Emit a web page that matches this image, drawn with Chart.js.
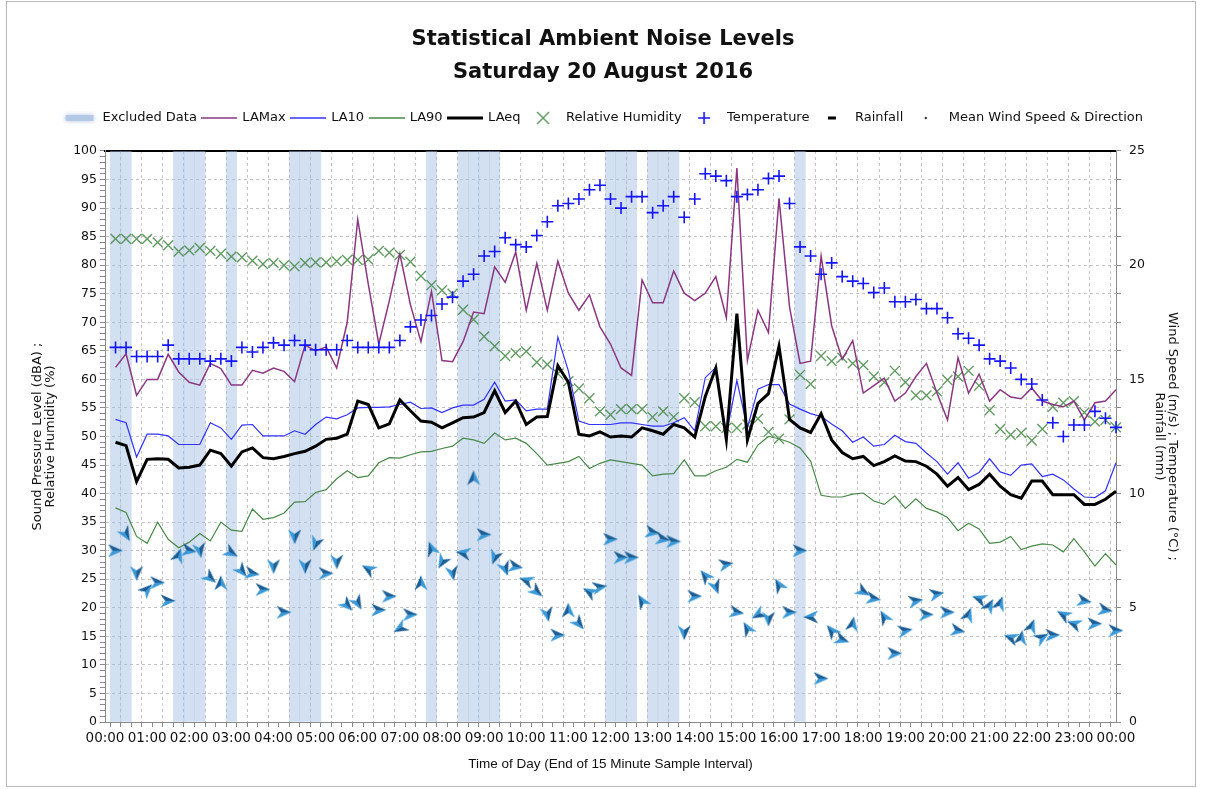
<!DOCTYPE html>
<html>
<head>
<meta charset="utf-8">
<title>Statistical Ambient Noise Levels</title>
<script src="https://cdn.jsdelivr.net/npm/chart.js@4.4.1/dist/chart.umd.min.js"></script>
<style>
  html, body { margin: 0; padding: 0; background: #fff; }
  #wrap { position: relative; width: 1206px; height: 789px; }
  #wrap canvas { position: absolute; left: 0; top: 0; }
  #frame { position: absolute; left: 6px; top: 1px; width: 1190px; height: 786px; border: 1px solid #b8b8b8; box-sizing: border-box; pointer-events: none; }
</style>
</head>
<body>
<div id="wrap">
  <canvas id="chart" width="1206" height="789"></canvas>
  <div id="frame"></div>
</div>
<script>
// 15 minute samples, labelled by end of interval; index 0 is 00:00 (no sample)
const timeLabels = [];
for (let i = 0; i <= 96; i++) {
    const m = (i * 15) % 1440;
    timeLabels.push(String(Math.floor(m / 60)).padStart(2, '0') + ':' + String(m % 60).padStart(2, '0'));
}

// dBA, one row = two hours
const laMax = [null,
    62.1, 64.5, 57.2, 60, 60, 64.4, 61.3, 59.5,
    59, 62.8, 61.9, 59, 59, 61.6, 61.1, 62,
    61.4, 59.6, 66, 65, 65.7, 62, 70, 88,
    76.7, 66.2, 73.8, 82, 73.1, 66.6, 75.4, 63.3,
    63.1, 66.6, 71.8, 71.5, 79.7, 77, 82.3, 72.1,
    80.3, 72.1, 80.7, 75.1, 72.1, 74.8, 69.2, 66.2,
    62, 60.7, 77.4, 73.4, 73.4, 79, 75.1, 73.8,
    75.1, 78, 70.8, 97, 63.3, 72.1, 68.2, 91.7,
    72.7, 62.8, 63.2, 81.6, 69.4, 63.5, 66.8, 57.6,
    58.9, 60.2, 56.2, 57.6, 60.5, 62.8, 57.6, 52.9,
    63.8, 57.6, 60.9, 56.2, 58.2, 56.9, 56.6, 58.5,
    56.2, 55.6, 55.2, 56.2, 52.9, 55.9, 56.2, 58.2];

const la10 = [null,
    53, 52.4, 46.4, 50.4, 50.4, 50.1, 48.6, 48.6,
    48.6, 52.4, 51.5, 49.5, 52, 52.1, 50.1, 50.1,
    50.1, 51, 50.4, 52.1, 53.4, 53.1, 53.8, 55,
    55.1, 55.1, 55.2, 55.6, 56, 54.9, 55, 54.2,
    55, 55.5, 55.5, 56.5, 59.5, 56.2, 56.4, 54.5,
    54.8, 54.8, 67.4, 61.5, 52.7, 52.1, 52.1, 52.1,
    52.4, 52.4, 52.1, 51.8, 51.8, 52.4, 53.3, 51,
    60.3, 62.1, 50.4, 59.8, 51.5, 58.3, 59.1, 59.1,
    55.7, 54.8, 54, 53.5, 52.2, 51, 49, 49.9,
    48.3, 48.6, 50.2, 49.1, 48.8, 47.1, 45.6, 43.4,
    45.4, 42.7, 43.7, 46.1, 43.8, 43.2, 45, 45.2,
    43, 43.4, 42.4, 40.8, 39.4, 39.3, 40.5, 45.4];

const la90 = [null,
    37.5, 36.7, 32.5, 31.3, 35, 32, 30.5, 31.5,
    33, 31.7, 35, 33.6, 33.4, 37.3, 35.5, 35.8,
    36.6, 38.5, 38.6, 40.2, 40.7, 42.6, 44, 42.8,
    43.1, 45.4, 46.3, 46.2, 46.8, 47.3, 47.4, 47.9,
    48.3, 49.7, 49.4, 48.8, 50.6, 49.4, 49.7, 48.8,
    47, 45, 45.3, 45.6, 46.5, 44.4, 45.3, 45.9,
    45.6, 45.3, 45, 43.1, 43.4, 43.5, 45.9, 43.1,
    43.1, 44, 44.6, 46, 45.5, 48.5, 50, 49.6,
    49, 48, 45.7, 39.7, 39.4, 39.4, 39.9, 40.1,
    38.7, 38.1, 39.6, 37.4, 39.1, 37.4, 36.8, 35.8,
    33.5, 34.8, 33.8, 31.3, 31.5, 32.5, 30.2, 30.8,
    31.2, 31, 29.8, 32.1, 29.8, 27.3, 29.5, 27.5];

const laeq = [null,
    49, 48.4, 42.1, 46, 46.1, 46, 44.5, 44.6,
    45, 47.6, 47, 44.8, 47.3, 48, 46.3, 46.1,
    46.5, 47, 47.4, 48.3, 49.5, 49.7, 50.4, 56.2,
    55.6, 51.5, 52.2, 56.4, 54.5, 52.7, 52.5, 51.5,
    52.4, 53.3, 53.4, 54.2, 58, 54.2, 56.2, 52.1,
    53.4, 53.5, 62.4, 59.5, 50.4, 50.1, 50.8, 49.9,
    50.1, 49.9, 51.5, 51, 50.4, 52.1, 51.5, 49.9,
    57, 62, 49.5, 71.5, 49.4, 55.8, 57.5, 65.8,
    53, 51.5, 50.7, 54, 49.4, 47.2, 46.1, 46.5,
    44.9, 45.6, 46.6, 45.7, 45.6, 44.8, 43.4, 41.3,
    42.8, 40.7, 41.6, 43.4, 41.3, 39.8, 39.2, 42.2,
    42.2, 39.8, 39.8, 39.8, 38.1, 38.1, 39, 40.4];

// %
const humidity = [null,
    84.6, 84.6, 84.6, 84.6, 84, 83.5, 82.4, 82.6,
    83, 82.5, 82, 81.5, 81.4, 80.8, 80.2, 80.4,
    80, 79.8, 80.4, 80.5, 80.5, 80.7, 80.9, 80.9,
    81, 82.5, 82.2, 81.8, 80.6, 78.1, 76.5, 75.6,
    75, 72.2, 70.5, 67.5, 65.8, 64.1, 64.6, 64.9,
    63, 62.6, 61, 59.7, 58.4, 56.7, 54.4, 53.8,
    54.8, 54.8, 54.8, 53.4, 54.4, 53.4, 56.7, 56,
    51.8, 51.8, 51.5, 51.5, 52.1, 53.1, 50.8, 49.6,
    53, 60.8, 59.2, 64.1, 63.2, 63.8, 62.8, 62.5,
    60.5, 59.5, 61.5, 59.5, 57.2, 57.2, 57.9, 59.9,
    60.5, 61.5, 58.9, 54.6, 51.3, 50.3, 50.6, 49.3,
    51.3, 55.2, 55.9, 56.2, 54.2, 52.6, 52.9, 51.6];

// degrees C
const temperature = [null,
    16.4, 16.4, 16.0, 16.0, 16.0, 16.5, 15.9, 15.9,
    15.9, 15.8, 15.9, 15.8, 16.4, 16.2, 16.4, 16.6,
    16.5, 16.7, 16.5, 16.3, 16.3, 16.3, 16.7, 16.4,
    16.4, 16.4, 16.4, 16.7, 17.3, 17.6, 17.8, 18.3,
    18.6, 19.3, 19.6, 20.4, 20.6, 21.2, 20.9, 20.8,
    21.3, 21.9, 22.6, 22.7, 22.9, 23.3, 23.5, 22.9,
    22.5, 23.0, 23.0, 22.3, 22.6, 23.0, 22.1, 22.9,
    24.0, 23.9, 23.7, 23.0, 23.1, 23.3, 23.8, 23.9,
    22.7, 20.8, 20.4, 19.6, 20.1, 19.5, 19.3, 19.2,
    18.8, 19.0, 18.4, 18.4, 18.5, 18.1, 18.1, 17.7,
    17.0, 16.8, 16.5, 15.9, 15.8, 15.5, 15.0, 14.8,
    14.1, 13.1, 12.5, 13.0, 13.0, 13.6, 13.3, 12.9];

// m/s
const windSpeed = [null,
    7.5, 8.2, 6.5, 5.8, 6.1, 5.3, 7.3, 7.5,
    7.5, 6.3, 6.1, 7.4, 6.6, 6.5, 5.8, 6.8,
    4.8, 8.1, 6.8, 7.8, 6.5, 7.0, 5.1, 5.2,
    6.7, 4.9, 5.5, 4.1, 4.7, 6.1, 7.6, 7.0,
    6.5, 7.4, 10.7, 8.2, 7.2, 6.7, 6.8, 6.2,
    5.7, 4.7, 3.8, 4.9, 4.3, 5.7, 5.9, 8.0,
    7.2, 7.2, 5.3, 8.3, 8.0, 7.9, 3.9, 5.5,
    6.4, 5.9, 6.9, 4.8, 4.1, 4.7, 4.5, 6.0,
    4.8, 7.5, 4.6, 1.9, 4.0, 3.6, 4.3, 5.7,
    5.4, 4.6, 3.0, 4.0, 5.3, 4.7, 5.6, 4.8,
    4.0, 4.7, 5.4, 5.1, 5.2, 3.7, 3.7, 4.2,
    3.7, 3.8, 4.7, 4.3, 5.3, 4.3, 4.9, 4.0];

// direction the arrow points, degrees clockwise from up
const windDir = [0,
    90, 150, 180, 45, 90, 90, 20, 100,
    170, 130, 0, 120, 140, 100, 90, 180,
    90, 180, 180, 200, 90, 180, 135, 150,
    300, 90, 90, 240, 90, 0, 340, 210,
    170, 280, 0, 90, 200, 160, 100, 290,
    130, 170, 90, 0, 140, 300, 80, 90,
    90, 90, 330, 100, 100, 90, 180, 90,
    320, 160, 80, 100, 330, 240, 180, 330,
    90, 90, 270, 90, 320, 110, 10, 120,
    100, 330, 90, 80, 80, 90, 80, 90,
    100, 20, 290, 30, 20, 290, 10, 20,
    60, 90, 300, 290, 100, 90, 100, 90];

// mm - none recorded
const rainfall = [];

// sample indices flagged as excluded
const excludedSamples = [1, 2, 7, 8, 9, 12, 18, 19, 20, 31, 34, 35, 36, 37, 48, 49, 50, 52, 53, 54, 66];

const COLORS = {
    excluded: 'rgba(160, 190, 226, 0.48)',
    laMax: '#8a3780',
    la10: '#3232ff',
    la90: '#4a874a',
    laeq: '#000000',
    humidity: 'rgba(72, 136, 72, 0.85)',
    temperature: '#1414ff',
    grid: '#c4c4c4',
    axis: '#8a8a8a'
};

const swatch = (w, h, draw) => {
    const c = document.createElement('canvas');
    c.width = w;
    c.height = h;
    draw(c.getContext('2d'), w, h);
    return c;
};

const arrowImg = swatch(16, 16, g => {
    g.beginPath();
    g.moveTo(8, 0.5); g.lineTo(8, 11); g.lineTo(1.5, 15.5); g.closePath();
    g.fillStyle = '#1c5e94';
    g.fill();
    g.beginPath();
    g.moveTo(8, 0.5); g.lineTo(14.5, 15.5); g.lineTo(8, 11); g.closePath();
    g.fillStyle = '#3a98d6';
    g.fill();
});

const lineSwatch = (color, width) => swatch(36, 6, (g, w, h) => {
    g.strokeStyle = color;
    g.lineWidth = width;
    g.beginPath();
    g.moveTo(0, h / 2);
    g.lineTo(w, h / 2);
    g.stroke();
});

const legendItems = [
    { text: 'Excluded Data', pointStyle: swatch(36, 14, g => {
        g.shadowColor = 'rgba(150, 180, 215, 0.9)';
        g.shadowBlur = 4;
        g.fillStyle = 'rgba(178, 200, 228, 0.9)';
        g.fillRect(4, 4, 28, 6);
    }) },
    { text: 'LAMax', pointStyle: lineSwatch(COLORS.laMax, 1.5) },
    { text: 'LA10', pointStyle: lineSwatch(COLORS.la10, 1.5) },
    { text: 'LA90', pointStyle: lineSwatch(COLORS.la90, 1.5) },
    { text: 'LAeq', pointStyle: lineSwatch(COLORS.laeq, 3) },
    { text: 'Relative Humidity', pointStyle: swatch(36, 16, g => {
        g.strokeStyle = COLORS.humidity;
        g.lineWidth = 1.5;
        g.beginPath();
        g.moveTo(12, 2); g.lineTo(24, 14);
        g.moveTo(24, 2); g.lineTo(12, 14);
        g.stroke();
    }) },
    { text: 'Temperature', pointStyle: swatch(36, 16, g => {
        g.strokeStyle = COLORS.temperature;
        g.lineWidth = 1.6;
        g.beginPath();
        g.moveTo(12, 8); g.lineTo(24, 8);
        g.moveTo(18, 2); g.lineTo(18, 14);
        g.stroke();
    }) },
    { text: 'Rainfall', pointStyle: swatch(36, 6, g => {
        g.fillStyle = '#000';
        g.fillRect(14, 1.5, 8, 3);
    }) },
    { text: 'Mean Wind Speed & Direction', pointStyle: swatch(36, 6, g => {
        g.fillStyle = '#333';
        g.beginPath();
        g.arc(18, 3, 1.2, 0, Math.PI * 2);
        g.fill();
    }) }
].map((item, i) => Object.assign(item, {
    fillStyle: 'transparent', strokeStyle: 'transparent', lineWidth: 0,
    hidden: false, fontColor: '#111', datasetIndex: i
}));

const excludedData = timeLabels.map((t, i) => excludedSamples.includes(i) ? 100 : null);

const lineDataset = (label, data, color, width, order) => ({
    type: 'line',
    label: label,
    data: data,
    xAxisID: 'x',
    yAxisID: 'y',
    borderColor: color,
    borderWidth: width,
    pointRadius: 0,
    tension: 0,
    order: order
});

Chart.defaults.font.family = "'DejaVu Sans', sans-serif";

new Chart(document.getElementById('chart'), {
    type: 'bar',
    data: {
        labels: timeLabels,
        datasets: [
            {
                type: 'bar',
                label: 'Excluded Data',
                data: excludedData,
                xAxisID: 'x',
                yAxisID: 'y',
                backgroundColor: COLORS.excluded,
                borderWidth: 0,
                barPercentage: 1,
                categoryPercentage: 1,
                grouped: false,
                order: 10
            },
            lineDataset('LAMax', laMax, COLORS.laMax, 1.5, 5),
            lineDataset('LA10', la10, COLORS.la10, 1.2, 4),
            lineDataset('LA90', la90, COLORS.la90, 1.2, 6),
            lineDataset('LAeq', laeq, COLORS.laeq, 3, 3),
            {
                type: 'line',
                label: 'Relative Humidity',
                data: humidity,
                xAxisID: 'x',
                yAxisID: 'y',
                showLine: false,
                pointStyle: 'crossRot',
                pointRadius: 7,
                pointBorderColor: COLORS.humidity,
                pointBorderWidth: 1.4,
                order: 7
            },
            {
                type: 'line',
                label: 'Temperature',
                data: temperature,
                xAxisID: 'x',
                yAxisID: 'y2',
                showLine: false,
                pointStyle: 'cross',
                pointRadius: 6,
                pointBorderColor: COLORS.temperature,
                pointBorderWidth: 1.6,
                order: 2
            },
            {
                type: 'bar',
                label: 'Rainfall',
                data: rainfall,
                xAxisID: 'x',
                yAxisID: 'y2',
                backgroundColor: '#000',
                borderWidth: 0,
                grouped: false,
                order: 9
            },
            {
                type: 'line',
                label: 'Mean Wind Speed & Direction',
                data: windSpeed,
                xAxisID: 'x',
                yAxisID: 'y2',
                showLine: false,
                pointStyle: arrowImg,
                rotation: windDir,
                pointRadius: 7,
                order: 1
            }
        ]
    },
    options: {
        responsive: false,
        animation: false,
        devicePixelRatio: 1,
        events: [],
        layout: { padding: 0 },
        plugins: {
            tooltip: { enabled: false },
            title: {
                display: true,
                text: ['Statistical Ambient Noise Levels', 'Saturday 20 August 2016'],
                color: '#111',
                font: { size: 21, weight: 'bold', lineHeight: 1.571 },
                padding: { top: 23, bottom: 16.5 }
            },
            legend: {
                display: true,
                position: 'top',
                onClick: null,
                labels: {
                    usePointStyle: true,
                    pointStyleWidth: 33,
                    padding: 6,
                    color: '#111',
                    font: { size: 13 },
                    generateLabels: () => legendItems
                }
            }
        },
        scales: {
            x: {
                type: 'category',
                position: 'bottom',
                offset: false,
                grid: {
                    color: ctx => ctx.index % 2 === 0 ? COLORS.grid : 'rgba(0,0,0,0)',
                    tickLength: 5,
                    tickColor: COLORS.axis
                },
                border: { color: COLORS.axis, dash: [3, 3] },
                ticks: {
                    autoSkip: false,
                    maxRotation: 0,
                    padding: 3,
                    color: '#111',
                    font: { size: 13.5 },
                    callback: (v, i) => i % 4 === 0 ? timeLabels[i] : ''
                },
                title: {
                    display: true,
                    text: 'Time of Day (End of 15 Minute Sample Interval)',
                    color: '#111',
                    font: { family: "'Liberation Sans', sans-serif", size: 13.5 },
                    padding: { top: 0, bottom: 17 }
                },
                afterFit: s => { s.height = 67; }
            },
            xTop: {
                type: 'category',
                position: 'top',
                offset: false,
                grid: { display: false, drawTicks: false },
                ticks: { display: false },
                border: { display: true, color: '#000', width: 2 },
                afterFit: s => { s.height = 16.5; }
            },
            y: {
                position: 'left',
                min: 0,
                max: 100,
                ticks: {
                    stepSize: 1,
                    autoSkip: false,
                    padding: 3,
                    color: '#111',
                    font: { size: 12.5 },
                    callback: v => v % 5 === 0 ? String(v) : ''
                },
                grid: {
                    color: ctx => ctx.tick && ctx.tick.value % 5 === 0 ? COLORS.grid : 'rgba(0,0,0,0)',
                    tickLength: 5,
                    tickColor: COLORS.axis
                },
                border: { color: COLORS.axis, dash: [3, 3] },
                title: {
                    display: true,
                    text: ['Sound Pressure Level (dBA) ;', 'Relative Humidity (%)'],
                    color: '#111',
                    font: { size: 13, lineHeight: 1.0 },
                    padding: { top: 31.5, bottom: 0 }
                },
                afterFit: s => { s.width = 105; }
            },
            y2: {
                position: 'right',
                min: 0,
                max: 25,
                ticks: {
                    stepSize: 1.25,
                    autoSkip: false,
                    padding: 8,
                    color: '#111',
                    font: { size: 12.5 },
                    callback: v => v % 5 === 0 ? String(v) : ''
                },
                grid: {
                    drawOnChartArea: false,
                    tickLength: 5,
                    tickColor: COLORS.axis
                },
                border: { color: COLORS.axis },
                title: {
                    display: true,
                    text: ['Wind Speed (m/s) ; Temperature (°C) ;', 'Rainfall (mm)'],
                    color: '#111',
                    font: { size: 13, lineHeight: 1.0 },
                    padding: { top: 27.5, bottom: 0 }
                },
                afterFit: s => { s.width = 90; }
            }
        }
    }
});
</script>
</body>
</html>
